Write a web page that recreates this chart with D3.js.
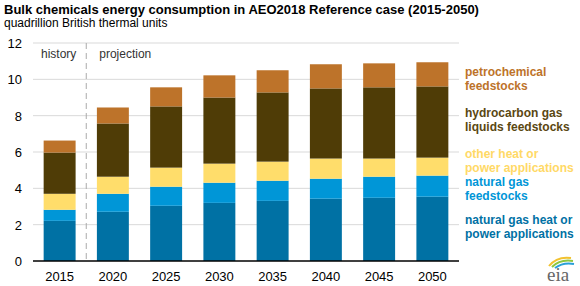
<!DOCTYPE html>
<html>
<head>
<meta charset="utf-8">
<script src="https://cdn.jsdelivr.net/npm/d3@7"></script>
<style>
  body { margin: 0; background: #fff; }
  text { font-family: "Liberation Sans", Arial, sans-serif; }
</style>
</head>
<body>
<div id="chart"></div>
<script>
// data (quadrillion Btu)
var years = ["2015", "2020", "2025", "2030", "2035", "2040", "2045", "2050"];
var ngHeatPower   = [2.21, 2.71, 3.04, 3.20, 3.31, 3.43, 3.48, 3.54];
var ngFeedstocks  = [0.61, 0.99, 1.05, 1.11, 1.11, 1.10, 1.16, 1.16];
var otherHeat     = [0.88, 0.94, 1.05, 1.05, 1.05, 1.11, 1.00, 0.99];
var hglFeedstocks = [2.27, 2.93, 3.37, 3.64, 3.81, 3.86, 3.92, 3.92];
var petroFeed     = [0.66, 0.88, 1.05, 1.22, 1.22, 1.33, 1.32, 1.33];
var yTicks = [0, 2, 4, 6, 8, 10, 12];

var seriesKeys = ["ngHeat", "ngFeed", "other", "hgl", "petro"];
var seriesColors = {
  ngHeat: "#0071a4",
  ngFeed: "#0096d7",
  other:  "#ffdd6b",
  hgl:    "#4f3c06",
  petro:  "#bd732a"
};
var legendLabels = {
  petro:  ["petrochemical", "feedstocks"],
  hgl:    ["hydrocarbon gas", "liquids feedstocks"],
  other:  ["other heat or", "power applications"],
  ngFeed: ["natural gas", "feedstocks"],
  ngHeat: ["natural gas heat or", "power applications"]
};
var legendText = {
  petro: "#bd732a", hgl: "#5a4712", other: "#ffd966", ngFeed: "#0096d7", ngHeat: "#0071a4"
};

var rows = years.map(function(y, i) {
  return {year: y, ngHeat: ngHeatPower[i], ngFeed: ngFeedstocks[i], other: otherHeat[i],
          hgl: hglFeedstocks[i], petro: petroFeed[i]};
});

var W = 580, H = 286;
var margin = {top: 43, right: 121, bottom: 25, left: 33};
var width = W - margin.left - margin.right,
    height = H - margin.top - margin.bottom;

var svg = d3.select("#chart").append("svg")
  .attr("width", W).attr("height", H);

svg.append("text").attr("x", 4).attr("y", 14)
  .style("font-size", "13px").style("font-weight", "bold").attr("fill", "#000")
  .text("Bulk chemicals energy consumption in AEO2018 Reference case (2015-2050)");
svg.append("text").attr("x", 4).attr("y", 27)
  .style("font-size", "12px").attr("fill", "#000")
  .text("quadrillion British thermal units");

var g = svg.append("g").attr("transform", "translate(" + margin.left + "," + margin.top + ")");

var x = d3.scaleBand().domain(years).range([0, width]).paddingInner(0.4).paddingOuter(0.2);
var y = d3.scaleLinear().domain([0, 12]).range([height, 0]);

// gridlines
g.append("g").selectAll("line").data(yTicks.filter(function(d) { return d > 0; }))
  .enter().append("line")
  .attr("x1", 0).attr("x2", width)
  .attr("y1", function(d) { return y(d); }).attr("y2", function(d) { return y(d); })
  .attr("stroke", "#d9d9d9").attr("stroke-width", 1);

// y tick labels
g.append("g").selectAll("text").data(yTicks).enter().append("text")
  .attr("x", -11).attr("y", function(d) { return y(d) + 5; })
  .attr("text-anchor", "end").style("font-size", "13px").attr("fill", "#000")
  .text(function(d) { return d; });

// stacked bars
var stack = d3.stack().keys(seriesKeys)(rows);
g.append("g").selectAll("g").data(stack).enter().append("g")
  .attr("fill", function(d) { return seriesColors[d.key]; })
  .selectAll("rect").data(function(d) { return d; }).enter().append("rect")
  .attr("x", function(d) { return x(d.data.year); })
  .attr("width", x.bandwidth())
  .attr("y", function(d) { return y(d[1]); })
  .attr("height", function(d) { return y(d[0]) - y(d[1]); });

// baseline
g.append("line").attr("x1", 0).attr("x2", width)
  .attr("y1", y(0)).attr("y2", y(0)).attr("stroke", "#000").attr("stroke-width", 1.5);

// x labels
g.append("g").selectAll("text").data(years).enter().append("text")
  .attr("x", function(d) { return x(d) + x.bandwidth() / 2; })
  .attr("y", height + 20)
  .attr("text-anchor", "middle").style("font-size", "13px").attr("fill", "#000")
  .text(function(d) { return d; });

// history / projection divider
var divX = x.step() * (x.paddingOuter() + 1) - x.step() * x.paddingInner() / 2;
divX = (x("2015") + x.bandwidth() + x("2020")) / 2;
g.append("line").attr("x1", divX).attr("x2", divX).attr("y1", 0).attr("y2", height)
  .attr("stroke", "#aaa").attr("stroke-width", 1).attr("stroke-dasharray", "6,4");
g.append("text").attr("x", x("2015") + x.bandwidth() / 2 - 1).attr("y", 15)
  .attr("text-anchor", "middle").style("font-size", "12px").attr("fill", "#333")
  .text("history");
g.append("text").attr("x", divX + 13).attr("y", 15)
  .style("font-size", "12px").attr("fill", "#333")
  .text("projection");

// legend, placed next to the last bar's segments
var legendY = {petro: 76, hgl: 117, other: 158, ngFeed: 186, ngHeat: 224};
var lg = svg.append("g");
seriesKeys.forEach(function(k) {
  var t = lg.append("text").attr("x", 465).attr("y", legendY[k])
    .style("font-size", "12px").style("font-weight", "bold").attr("fill", legendText[k]);
  legendLabels[k].forEach(function(line, i) {
    t.append("tspan").attr("x", 465).attr("dy", i === 0 ? 0 : 14).text(line);
  });
});

// eia logo
var logo = svg.append("g").attr("transform", "translate(547,268)");
logo.append("path").attr("d", "M2,-2 Q10,-12 24,-10").attr("fill", "none")
  .attr("stroke", "#f2c230").attr("stroke-width", 2);
logo.append("path").attr("d", "M5,-1 Q13,-9 26,-7").attr("fill", "none")
  .attr("stroke", "#8cc63f").attr("stroke-width", 2);
logo.append("path").attr("d", "M8,0 Q16,-6 27,-4").attr("fill", "none")
  .attr("stroke", "#2aa0d8").attr("stroke-width", 2);
logo.append("text").attr("x", 0).attr("y", 13)
  .style("font-family", "'Liberation Serif', serif").style("font-size", "19px")
  .attr("fill", "#666").text("eia");
</script>
</body>
</html>
